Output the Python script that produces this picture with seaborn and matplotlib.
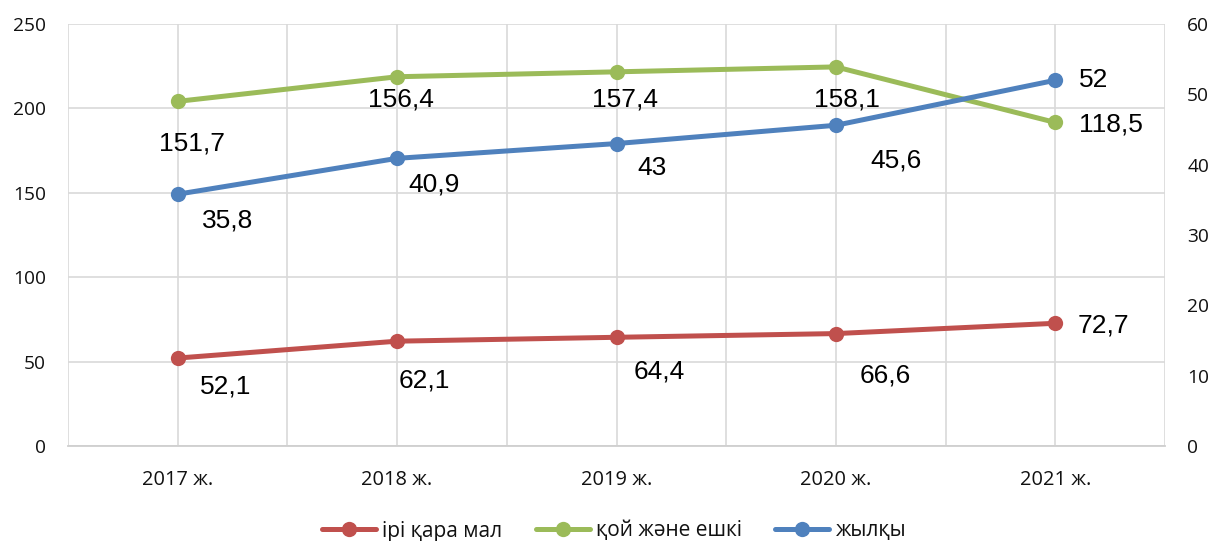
import matplotlib
matplotlib.use("Agg")
import matplotlib.pyplot as plt
import seaborn as sns
import pandas as pd
import numpy as np
from matplotlib.lines import Line2D

# ---- data ----
years = ["2017 ж.", "2018 ж.", "2019 ж.", "2020 ж.", "2021 ж."]
cattle = [52.1, 62.1, 64.4, 66.6, 72.7]            # left axis
# NOTE: in the reference chart the green points do NOT sit at their printed
# values (151.7 ... 118.5 would not fit either axis). The positions below are
# read off the picture in right-axis units so the line looks the same; the
# printed labels are kept separately in sheep_goat_labels.
sheep_goat_pos = [49.0, 52.5, 53.2, 53.9, 46.0]
sheep_goat_labels = [151.7, 156.4, 157.4, 158.1, 118.5]
horses = [35.8, 40.9, 43, 45.6, 52]                # right axis
series_names = ["ірі қара мал", "қой және ешкі", "жылқы"]
left_ticks = [0, 50, 100, 150, 200, 250]
right_ticks = [0, 10, 20, 30, 40, 50, 60]

# ---- styles ----
RED, GREEN, BLUE = "#C0504D", "#9BBB59", "#4F81BD"
GRID = "#D9D9D9"
LW = 3.6
MS = 11
TICKFONT = ["Open Sans", "DejaVu Sans"]
LABELFONT = ["Liberation Sans", "DejaVu Sans"]
TXT = "#111111"

sns.set_theme(style="white")
plt.rcParams["font.family"] = TICKFONT

fig = plt.figure(figsize=(12.16, 5.41), dpi=100)
ax = fig.add_axes([68/1216, 1-446/541, (1165-68)/1216, (446-24)/541])
ax2 = ax.twinx()

x = np.arange(len(years))
df = pd.DataFrame({"x": x, "cattle": cattle, "sg": sheep_goat_pos, "horses": horses})

sns.lineplot(data=df, x="x", y="cattle", ax=ax, color=RED, lw=LW, marker="o",
             markersize=MS, markeredgewidth=0, legend=False)
sns.lineplot(data=df, x="x", y="sg", ax=ax2, color=GREEN, lw=LW, marker="o",
             markersize=MS, markeredgewidth=0, legend=False)
sns.lineplot(data=df, x="x", y="horses", ax=ax2, color=BLUE, lw=LW, marker="o",
             markersize=MS, markeredgewidth=0, legend=False)

ax.set_xlim(-0.5, len(years) - 0.5)
ax.set_ylim(0, 250)
ax2.set_ylim(0, 60)
ax.set_yticks(left_ticks)
ax2.set_yticks(right_ticks)
ax.set_xticks(x)
ax.set_xticklabels(years)
ax.set_xticks(np.arange(-0.5, len(years), 1.0), minor=True)
ax.set_xlabel("")
ax.set_ylabel("")
ax2.set_ylabel("")

# gridlines
for yv in left_ticks:
    ax.axhline(yv, color=GRID, lw=1.2, zorder=0)
for xv in np.arange(-0.5, len(years), 0.5):
    ax.axvline(xv, color=GRID, lw=1.2, zorder=0)

for a in (ax, ax2):
    for s in a.spines.values():
        s.set_visible(False)
ax.spines["bottom"].set_visible(True)
ax.spines["bottom"].set_color("#CFCFCF")
ax.spines["bottom"].set_linewidth(1.3)

ax.tick_params(axis="x", which="major", length=0, pad=17, labelsize=14.4, labelcolor=TXT)
ax.tick_params(axis="x", which="minor", length=5, width=1.2, color="#CFCFCF")
ax.tick_params(axis="y", length=0, pad=16, labelsize=13.8, labelcolor=TXT)
ax2.tick_params(axis="y", length=0, pad=16, labelsize=13.8, labelcolor=TXT)

def fmt(v):
    return f"{v:g}".replace(".", ",")

px = 72 / 100.0
# label offsets (pixels: dx right, dy down)
red_off = [(48, 28), (27, 39), (43, 34), (49, 42), (48, 2)]
green_off = [(14, 42), (4, 23), (8, 28), (11, 33), (56, 2)]
blue_off = [(50, 26), (37, 26), (35, 24), (60, 35), (38, 0)]

for i in range(len(years)):
    ax.annotate(fmt(cattle[i]), (x[i], cattle[i]), xytext=(red_off[i][0]*px, -red_off[i][1]*px),
                textcoords="offset points", ha="center", va="center", fontsize=19,
                family=LABELFONT, color="black")
    ax2.annotate(fmt(sheep_goat_labels[i]), (x[i], sheep_goat_pos[i]),
                 xytext=(green_off[i][0]*px, -green_off[i][1]*px),
                 textcoords="offset points", ha="center", va="center", fontsize=19,
                 family=LABELFONT, color="black")
    ax2.annotate(fmt(horses[i]), (x[i], horses[i]), xytext=(blue_off[i][0]*px, -blue_off[i][1]*px),
                 textcoords="offset points", ha="center", va="center", fontsize=19,
                 family=LABELFONT, color="black")

handles = [Line2D([], [], color=c, lw=LW, marker="o", markersize=MS, markeredgewidth=0)
           for c in (RED, GREEN, BLUE)]
fig.legend(handles, series_names, loc="center", bbox_to_anchor=(614/1216, 1-531/541), ncol=3,
           frameon=False, fontsize=15, handlelength=2.6, handletextpad=0.3,
           columnspacing=1.6, labelcolor=TXT, borderpad=0.2)

fig.savefig("out.png", dpi=100)
